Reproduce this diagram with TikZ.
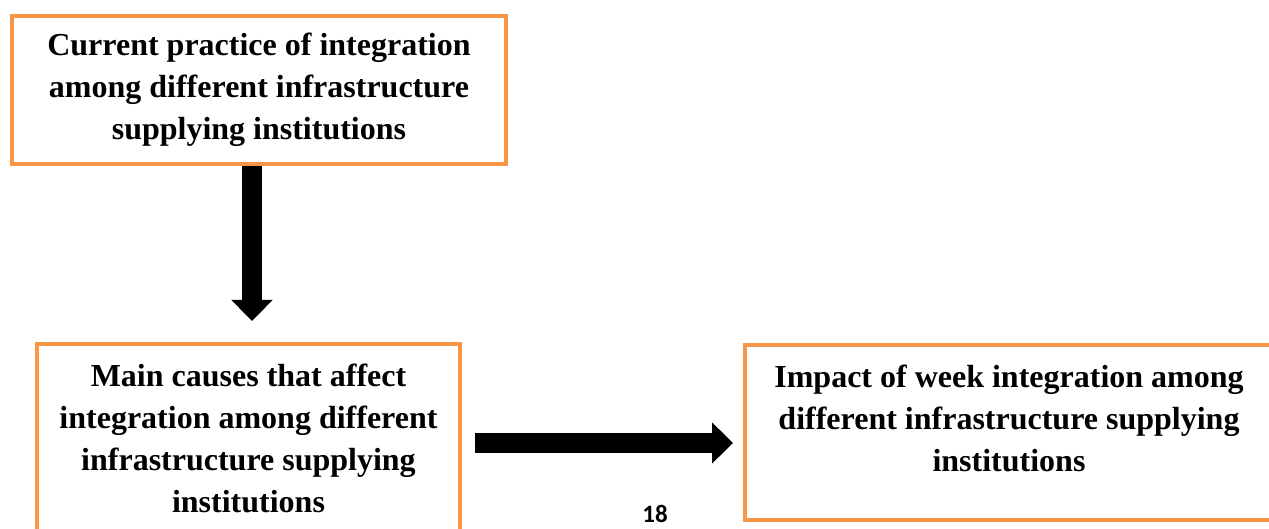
\documentclass[tikz,border=0pt]{standalone}
\usepackage{fontspec}
\setmainfont{Liberation Serif}
\newfontfamily\pagefont{Carlito}
\usetikzlibrary{arrows.meta}
\definecolor{boxorange}{RGB}{247,150,70}
\begin{document}
\begin{tikzpicture}[x=0.5pt,y=-0.5pt,
  box/.style={draw=boxorange,line width=2pt,inner sep=0pt},
  boxtext/.style={align=center,font=\bfseries\fontsize{16}{21}\selectfont},
  bigarrow/.style={line width=10pt,-{Triangle[width=20pt,length=10.5pt]}}]
\useasboundingbox (0,0) rectangle (1269,529);
\node[box,boxtext,minimum width=247pt,minimum height=74pt] (practice) at (259,90)
  {Current practice of integration\\among different infrastructure\\supplying institutions};
\node[box,boxtext,minimum width=211.5pt,minimum height=94pt] (causes) at (248.5,438)
  {Main causes that affect\\integration among different\\infrastructure supplying\\institutions};
\node[box,minimum width=264pt,minimum height=87.5pt] (impact) at (1009,432.5) {};
\node[boxtext] (impacttext) at ([yshift=7.25pt]impact.center)
  {Impact of week integration among\\different infrastructure supplying\\institutions};
\node[font=\pagefont\bfseries\fontsize{12.5}{14}\selectfont] (pagenum) at (655,514) {18};
\draw[bigarrow] ([xshift=-3.5pt]practice.south) -- ([xshift=1.75pt,yshift=10.5pt]causes.north);
\draw[bigarrow] ([xshift=6.5pt,yshift=-2.5pt]causes.east) -- ([xshift=-5pt,yshift=-2.5pt]causes.east -| impact.west);
\end{tikzpicture}
\end{document}
